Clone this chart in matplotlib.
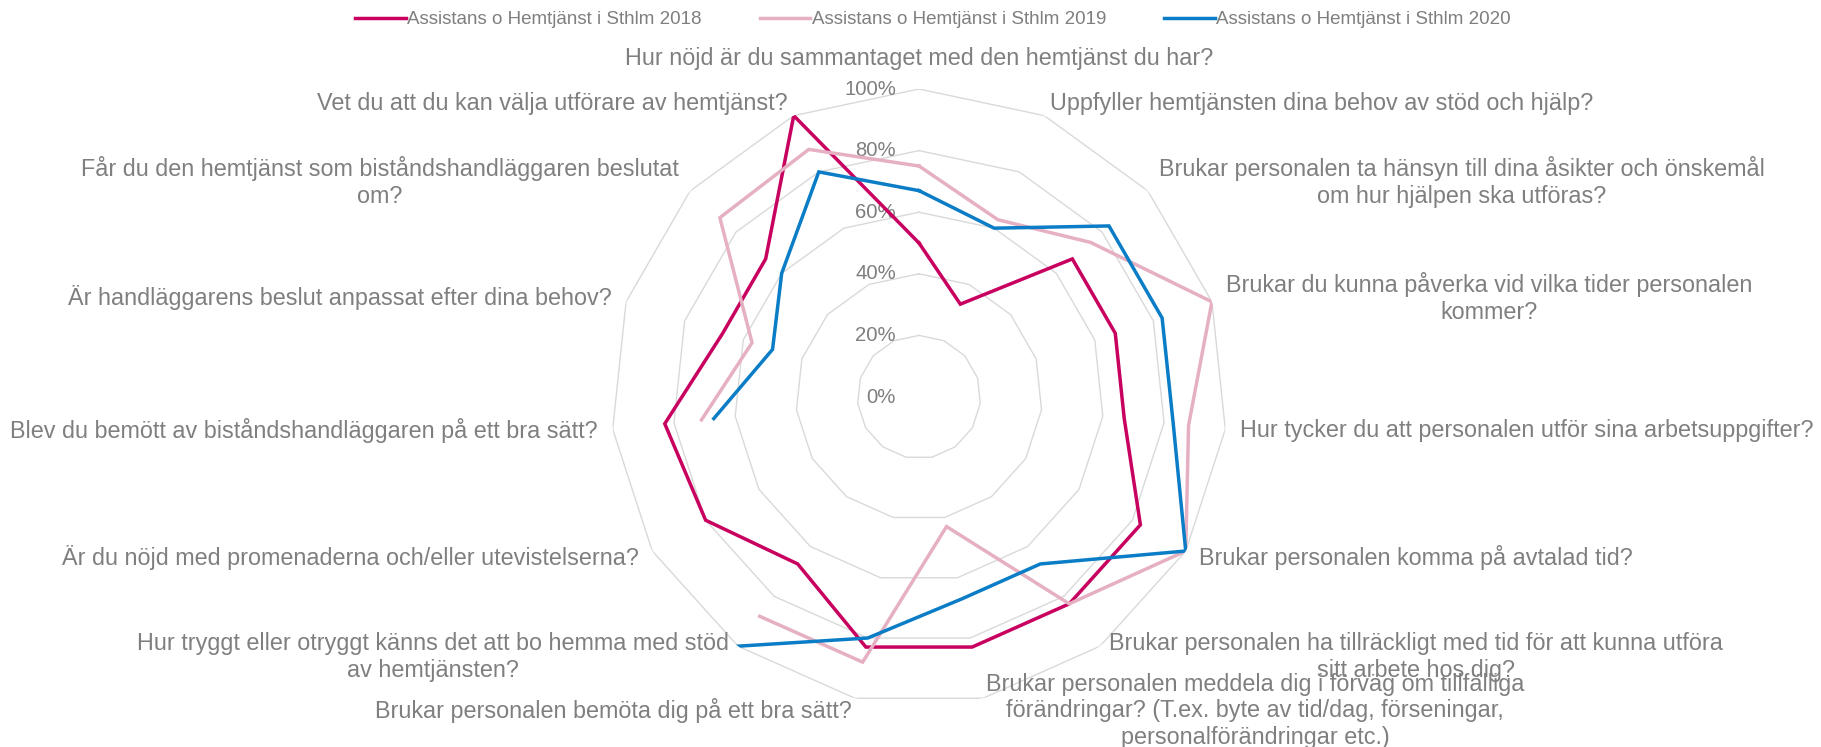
import numpy as np
import matplotlib
matplotlib.use("Agg")
import matplotlib.pyplot as plt
import matplotlib.transforms as mtransforms
from matplotlib.lines import Line2D

plt.rcParams['font.family'] = ['Liberation Sans', 'DejaVu Sans']

categories = [
    "Hur nöjd är du sammantaget med den hemtjänst du har?",
    "Uppfyller hemtjänsten dina behov av stöd och hjälp?",
    "Brukar personalen ta hänsyn till dina åsikter och önskemål\nom hur hjälpen ska utföras?",
    "Brukar du kunna påverka vid vilka tider personalen\nkommer?",
    "Hur tycker du att personalen utför sina arbetsuppgifter?",
    "Brukar personalen komma på avtalad tid?",
    "Brukar personalen ha tillräckligt med tid för att kunna utföra\nsitt arbete hos dig?",
    "Brukar personalen meddela dig i förväg om tillfälliga\nförändringar? (T.ex. byte av tid/dag, förseningar,\npersonalförändringar etc.)",
    "Brukar personalen bemöta dig på ett bra sätt?",
    "Hur tryggt eller otryggt känns det att bo hemma med stöd\nav hemtjänsten?",
    "Är du nöjd med promenaderna och/eller utevistelserna?",
    "Blev du bemött av biståndshandläggaren på ett bra sätt?",
    "Är handläggarens beslut anpassat efter dina behov?",
    "Får du den hemtjänst som biståndshandläggaren beslutat\nom?",
    "Vet du att du kan välja utförare av hemtjänst?",
]

series_names = ["Assistans o Hemtjänst i Sthlm 2018",
                "Assistans o Hemtjänst i Sthlm 2019",
                "Assistans o Hemtjänst i Sthlm 2020"]

values_2018 = [50, 33, 67, 67, 67, 83, 83, 83, 83, 67, 80, 83, 67, 67, 100]
values_2019 = [75, 63, 75, 100, 88, 100, 83, 43, 88, 88, np.nan, 71, 57, 87, 88]
values_2020 = [67, 60, 83, 83, 83, 100, 67, 67, 80, 100, np.nan, 67, 50, 60, 80]

ring_levels = [0, 20, 40, 60, 80, 100]
ring_labels = ["0%", "20%", "40%", "60%", "80%", "100%"]

colors = ["#C8005F", "#E6B0C3", "#0A7DC6"]
grid_color = "#D9D9D9"
text_color = "#7F7F7F"

W, H = 1821, 747
fig = plt.figure(figsize=(W / 100, H / 100), dpi=100)
ax = fig.add_axes([0.33553, 0.05622, 0.33828, 0.82463], projection="polar")
ax.set_theta_zero_location("N")
ax.set_theta_direction(-1)
ax.set_ylim(0, 100)
ax.grid(False)
ax.set_xticks([])
ax.set_yticks([])
ax.spines["polar"].set_visible(False)
ax.patch.set_alpha(0)

n = len(categories)
theta = np.arange(n) * 2 * np.pi / n
theta_closed = np.append(theta, theta[0])

# rings
for lvl in ring_levels[1:]:
    ax.plot(theta_closed, np.full(n + 1, lvl), color=grid_color, lw=1.0, zorder=1)

# ring labels
off = mtransforms.ScaledTranslation(-23 / 100, 0, fig.dpi_scale_trans)
for lvl, lab in zip(ring_levels, ring_labels):
    ax.text(0, lvl, lab, transform=ax.transData + off, ha="right", va="center",
            fontsize=14.6, color=text_color, zorder=2)

# series
for vals, c, name in zip([values_2018, values_2019, values_2020], colors, series_names):
    v = np.append(np.array(vals, dtype=float), vals[0])
    ax.plot(theta_closed, v, color=c, lw=2.5, zorder=3, label=name,
            solid_joinstyle="miter")

# category labels
for t, lab in zip(theta, categories):
    s, c = np.sin(t), np.cos(t)
    if abs(s) < 0.01:
        ha = "center"
        dx, dy = 0, 31
    else:
        ha = "left" if s > 0 else "right"
        dx, dy = 15 * s, 13 * c
    ax.annotate(lab, xy=(t, 100), xytext=(dx, dy), textcoords="offset pixels",
                ha=ha, va="center", multialignment="center", fontsize=16.8,
                color=text_color, linespacing=1.22, annotation_clip=False)

handles = [Line2D([], [], color=c, lw=2.5) for c in colors]
fig.legend(handles, series_names, loc="center", bbox_to_anchor=(0.5125, 0.9736),
           ncol=3, frameon=False, fontsize=13.5, handlelength=2.67,
           handletextpad=0.1, columnspacing=3.1, labelcolor=text_color)

fig.savefig("out.png", dpi=100)
